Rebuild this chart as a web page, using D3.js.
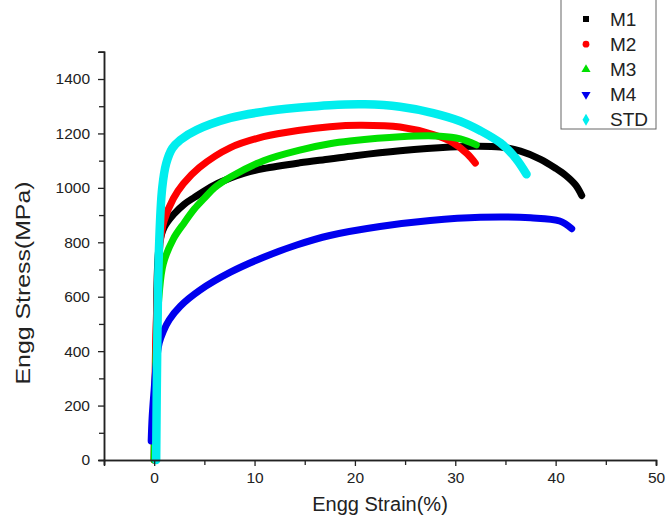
<!DOCTYPE html>
<html>
<head>
<meta charset="utf-8">
<title>Engg Stress-Strain</title>
<script src="https://d3js.org/d3.v7.min.js"></script>
<style>
  body { margin: 0; background: #fff; }
  text { font-family: Arial, "Liberation Sans", sans-serif; fill: #222; }
</style>
</head>
<body>
<svg id="chart" width="666" height="520"></svg>
<script>
// series names, in plotting order (last one ends up on top)
const seriesNames = ['M1', 'M2', 'M3', 'M4', 'STD'];
const seriesColors = ['#000000', '#ff0000', '#00e000', '#0000ee', '#00eeee'];
const seriesSymbols = [d3.symbolSquare, d3.symbolCircle, d3.symbolTriangle, d3.symbolTriangle, d3.symbolDiamond];

// strain (%) / stress (MPa)
const m1Strain = [0, 0.2, 0.5, 1.0, 2.0, 3.0, 4.0, 6.0, 7.6, 9.0, 10.9, 14.5, 17.5, 20, 24.5, 29.5, 32, 34.5, 36.5, 38.5, 40, 41, 42, 42.6];
const m1Stress = [0, 450, 790, 855, 905, 940, 965, 1010, 1036, 1054, 1071, 1092, 1106, 1118, 1136, 1150, 1153, 1150, 1135, 1105, 1072, 1046, 1010, 972];

const m2Strain = [0, 0.2, 0.6, 1.0, 1.9, 2.9, 4.5, 7.6, 10.9, 14.5, 17.5, 20.5, 24.5, 27.8, 29.8, 31.2, 32.0];
const m2Stress = [0, 500, 800, 880, 960, 1015, 1075, 1148, 1188, 1212, 1225, 1230, 1224, 1196, 1165, 1125, 1091];

const m3Strain = [0, 0.2, 0.5, 0.9, 1.9, 3.0, 4.0, 5.0, 6.0, 7.6, 10.9, 14.5, 17.5, 19.5, 24.5, 28.5, 30.5, 32.1];
const m3Stress = [0, 400, 610, 720, 812, 872, 922, 962, 1000, 1040, 1100, 1139, 1162, 1172, 1188, 1190, 1180, 1158];

const m4Strain = [-0.3, -0.2, 0, 0.2, 0.5, 0.9, 1.5, 2.6, 4.6, 7.6, 10.9, 14.2, 17.5, 22.5, 27.5, 32.5, 37.5, 40.4, 41.6];
const m4Stress = [70, 160, 260, 350, 430, 472, 515, 565, 625, 690, 745, 790, 825, 858, 880, 892, 890, 878, 850];

const stdStrain = [0.2, 0.3, 0.5, 0.8, 1.2, 1.8, 2.6, 4.25, 7.6, 10.9, 14.5, 17.5, 21, 24.5, 27.8, 30.5, 32.5, 34.5, 36, 37.1];
const stdStress = [0, 400, 800, 1000, 1090, 1145, 1176, 1213, 1257, 1280, 1295, 1304, 1307, 1298, 1275, 1245, 1210, 1165, 1110, 1050];

const xTicksMajor = [0, 10, 20, 30, 40, 50];
const yTicksMajor = [0, 200, 400, 600, 800, 1000, 1200, 1400];

const svg = d3.select('#chart');

const x = d3.scaleLinear().domain([-5, 50]).range([104, 656]);
const y = d3.scaleLinear().domain([0, 1500]).range([460, 51.8]);

const allSeries = [
  { strain: m1Strain, stress: m1Stress },
  { strain: m2Strain, stress: m2Stress },
  { strain: m3Strain, stress: m3Stress },
  { strain: m4Strain, stress: m4Stress },
  { strain: stdStrain, stress: stdStress }
].map((s, i) => ({
  name: seriesNames[i],
  color: seriesColors[i],
  points: s.strain.map((v, j) => [v, s.stress[j]])
}));

// curves
const line = d3.line()
  .x(d => x(d[0]))
  .y(d => y(d[1]))
  .curve(d3.curveCatmullRom.alpha(0.5));

svg.append('g').selectAll('path')
  .data(allSeries)
  .enter()
  .append('path')
  .attr('d', d => line(d.points))
  .attr('fill', 'none')
  .attr('stroke', d => d.color)
  .attr('stroke-width', d => d.name === 'STD' ? 8.5 : 7)
  .attr('stroke-linecap', 'round')
  .attr('stroke-linejoin', 'round');

// x axis, major + minor ticks
const xAxis = d3.axisBottom(x).tickValues(xTicksMajor).tickSize(6).tickPadding(6).tickFormat(d3.format('d'));
const xMinor = d3.axisBottom(x).tickValues(d3.range(-5, 50, 10)).tickSize(5).tickFormat('');

const gx = svg.append('g').attr('transform', 'translate(0,460)');
gx.call(xAxis);
gx.append('g').call(xMinor);

const yAxis = d3.axisLeft(y).tickValues(yTicksMajor).tickSize(6).tickPadding(8).tickFormat(d3.format('d'));
const yMinor = d3.axisLeft(y).tickValues(d3.range(100, 1600, 200)).tickSize(5).tickFormat('');

const gy = svg.append('g').attr('transform', 'translate(104,0)');
gy.call(yAxis);
gy.append('g').call(yMinor);

svg.selectAll('.domain').attr('stroke', '#222').attr('stroke-width', 1.5);
svg.selectAll('.tick line').attr('stroke', '#222').attr('stroke-width', 1.3);
svg.selectAll('.tick text')
  .style('font-family', 'Arial, "Liberation Sans", sans-serif')
  .style('font-size', '15.5px')
  .attr('fill', '#222');

// axis titles
svg.append('text')
  .attr('x', 380).attr('y', 511)
  .attr('text-anchor', 'middle')
  .style('font-size', '20px')
  .text('Engg Strain(%)');

svg.append('text')
  .attr('transform', 'translate(30,283) rotate(-90)')
  .attr('text-anchor', 'middle')
  .attr('textLength', 203)
  .attr('lengthAdjust', 'spacingAndGlyphs')
  .style('font-size', '21px')
  .text('Engg Stress(MPa)');

// legend
const legend = svg.append('g');
legend.append('rect')
  .attr('x', 561).attr('y', -1)
  .attr('width', 95).attr('height', 130)
  .attr('fill', '#fff')
  .attr('stroke', '#666')
  .attr('stroke-width', 1);

const legendRows = legend.selectAll('g.row')
  .data(allSeries)
  .enter()
  .append('g')
  .attr('class', 'row')
  .attr('transform', (d, i) => `translate(586,${19 + i * 25.2})`);

legendRows.append('path')
  .attr('d', (d, i) => d3.symbol().type(seriesSymbols[i]).size(i === 4 ? 42 : 36)())
  .attr('transform', (d, i) => i === 3 ? 'rotate(180)' : null)
  .attr('fill', d => d.color);

legendRows.append('text')
  .attr('x', 24).attr('y', 6.5)
  .style('font-size', '19px')
  .text(d => d.name);
</script>
</body>
</html>
